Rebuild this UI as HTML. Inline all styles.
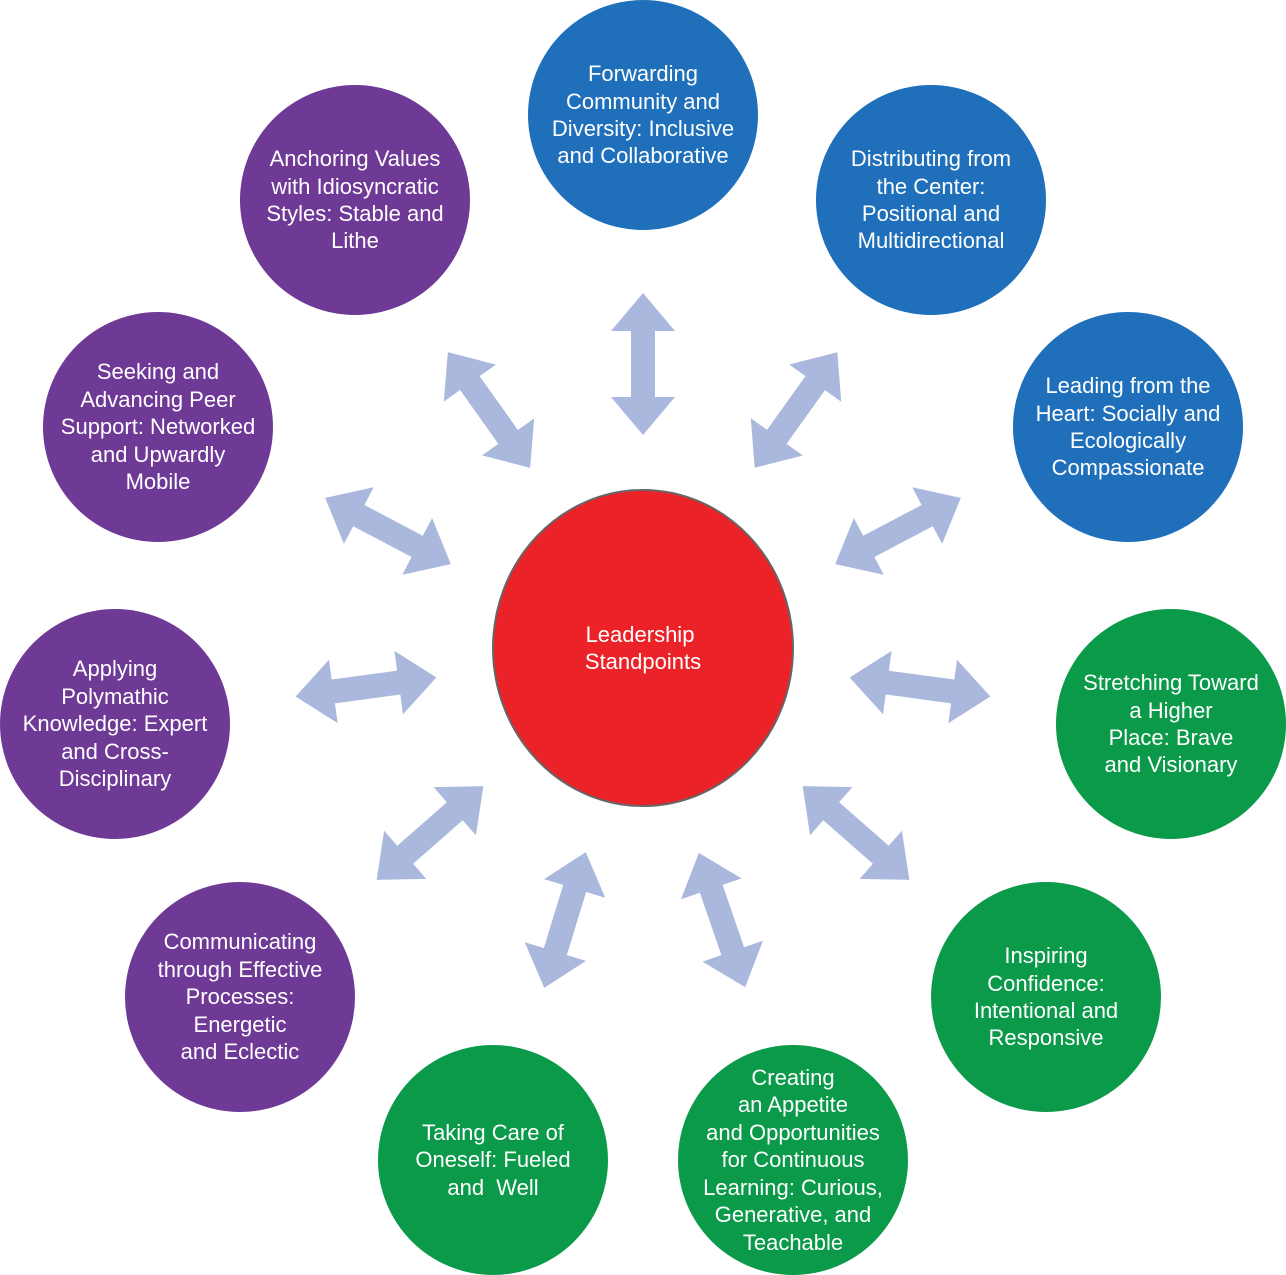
<!DOCTYPE html>
<html><head><meta charset="utf-8"><style>
html,body{margin:0;padding:0;background:#fff;}
#w{position:relative;width:1286px;height:1275px;overflow:hidden;font-family:"Liberation Sans",sans-serif;}
.c{position:absolute;width:230px;height:230px;border-radius:50%;display:flex;align-items:center;justify-content:center;text-align:center;color:#fff;font-size:22px;line-height:27.4px;box-sizing:border-box;padding:0 4px;white-space:nowrap;}
.b{background:#1f6fba}.p{background:#6f3996}.g{background:#0a9a4a}
svg{position:absolute;left:0;top:0}
</style></head><body><div id="w">
<svg width="1286" height="1275">
<defs><polygon id="a" fill="#aab8dd" points="-71,0 -33,-32 -33,-12 33,-12 33,-32 71,0 33,32 33,12 -33,12 -33,32"/></defs>
<use href="#a" transform="translate(643,364) rotate(90)"/>
<use href="#a" transform="translate(796,410) rotate(-54.4)"/>
<use href="#a" transform="translate(489,410) rotate(54.6)"/>
<use href="#a" transform="translate(898,531) rotate(-27.8)"/>
<use href="#a" transform="translate(388,531) rotate(27.8)"/>
<use href="#a" transform="translate(920,687) rotate(7.7)"/>
<use href="#a" transform="translate(366,687) rotate(-7.7)"/>
<use href="#a" transform="translate(856,833) rotate(41.3)"/>
<use href="#a" transform="translate(430,833) rotate(-41.3)"/>
<use href="#a" transform="translate(722,920) rotate(71)"/>
<use href="#a" transform="translate(565,920) rotate(-73)"/>
<ellipse cx="643" cy="648" rx="150" ry="158" fill="#eb2227" stroke="#666" stroke-width="2"/>
<text x="640" y="642" fill="#fff" font-size="22" text-anchor="middle" font-family="Liberation Sans">Leadership</text>
<text x="643" y="669" fill="#fff" font-size="22" text-anchor="middle" font-family="Liberation Sans">Standpoints</text>
</svg>
<div class="c b" style="left:528px;top:0px">Forwarding<br>Community and<br>Diversity: Inclusive<br>and Collaborative</div>
<div class="c b" style="left:816px;top:85px">Distributing from<br>the Center:<br>Positional and<br>Multidirectional</div>
<div class="c b" style="left:1013px;top:312px">Leading from the<br>Heart: Socially and<br>Ecologically<br>Compassionate</div>
<div class="c g" style="left:1056px;top:609px">Stretching Toward<br>a Higher<br>Place: Brave<br>and Visionary</div>
<div class="c g" style="left:931px;top:882px">Inspiring<br>Confidence:<br>Intentional and<br>Responsive</div>
<div class="c g" style="left:678px;top:1045px">Creating<br>an Appetite<br>and Opportunities<br>for Continuous<br>Learning: Curious,<br>Generative, and<br>Teachable</div>
<div class="c g" style="left:378px;top:1045px">Taking Care of<br>Oneself: Fueled<br>and&nbsp; Well</div>
<div class="c p" style="left:125px;top:882px">Communicating<br>through Effective<br>Processes:<br>Energetic<br>and Eclectic</div>
<div class="c p" style="left:0px;top:609px">Applying<br>Polymathic<br>Knowledge: Expert<br>and Cross-<br>Disciplinary</div>
<div class="c p" style="left:43px;top:312px">Seeking and<br>Advancing Peer<br>Support: Networked<br>and Upwardly<br>Mobile</div>
<div class="c p" style="left:240px;top:85px">Anchoring Values<br>with Idiosyncratic<br>Styles: Stable and<br>Lithe</div>
</div></body></html>
